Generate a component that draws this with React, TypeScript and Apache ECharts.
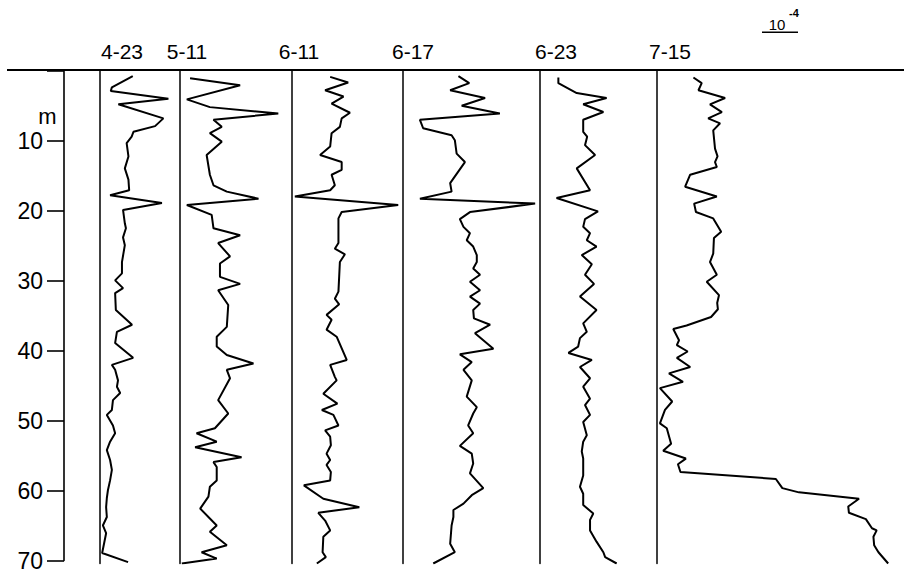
import React, { useEffect, useRef } from "react";
import * as echarts from "echarts";

// Profile labels (dates)
const profileLabels = ["4-23", "5-11", "6-11", "6-17", "6-23", "7-15"];

// Each profile: [depth (m), anomaly in units of 1e-5 from the profile's baseline]
const p0423 = [
  [0.8, 9.1], [2.4, 3.3], [2.9, 3.0], [4.0, 19.0], [4.8, 5.1], [6.8, 17.6], [7.9, 15.3],
  [8.7, 9.3], [9.4, 8.8], [10.3, 7.4], [12.2, 7.9], [13.9, 6.9], [15.5, 7.9], [17.0, 8.1],
  [17.7, 2.8], [18.8, 17.2], [19.8, 6.4], [21.7, 6.9], [22.4, 7.2], [23.7, 6.4], [24.8, 6.9],
  [27.2, 6.1], [28.8, 6.1], [29.8, 4.2], [30.9, 6.4], [31.6, 4.2], [34.0, 4.4], [36.1, 8.9],
  [37.1, 4.7], [38.7, 4.2], [40.8, 9.2], [41.8, 3.3], [42.5, 4.2], [44.0, 5.0], [44.9, 4.7],
  [45.8, 5.6], [46.8, 3.6], [48.2, 3.3], [48.9, 1.9], [50.4, 3.6], [51.5, 4.2], [52.7, 2.8],
  [53.9, 1.9], [55.3, 2.8], [56.7, 3.3], [58.2, 2.8], [59.6, 2.2], [60.7, 1.9], [62.0, 1.7],
  [63.4, 1.9], [64.6, 0.8], [65.7, 1.7], [68.5, 0.6], [69.8, 7.8],
];
const p0511 = [
  [1.1, 2.8], [2.1, 16.7], [4.1, 1.9], [5.2, 8.3], [6.1, 27.3], [7.0, 9.3], [8.0, 11.6],
  [8.9, 8.3], [10.1, 11.6], [12.0, 7.4], [14.8, 8.3], [16.3, 9.3], [17.2, 13.0], [18.2, 21.8],
  [19.1, 1.9], [20.5, 8.8], [22.4, 9.3], [23.4, 16.7], [24.5, 10.6], [26.4, 13.9], [27.4, 11.1],
  [29.3, 11.1], [30.3, 16.7], [31.2, 10.6], [33.3, 13.4], [36.4, 13.0], [37.8, 10.2],
  [39.2, 10.2], [40.4, 13.0], [41.6, 20.4], [42.5, 13.0], [43.7, 13.9], [46.8, 10.6],
  [48.7, 13.4], [50.8, 9.7], [51.5, 4.6], [52.7, 10.2], [53.5, 4.2], [54.9, 17.1], [55.6, 9.3],
  [56.3, 10.2], [58.2, 10.2], [59.1, 8.3], [60.5, 7.9], [62.2, 5.6], [64.6, 10.2], [65.5, 8.3],
  [67.4, 13.0], [68.4, 6.0], [69.3, 10.2], [70.0, 0.5],
];
const p0611 = [
  [0.9, 10.6], [1.7, 15.6], [2.8, 9.2], [3.7, 14.3], [4.7, 11.0], [6.0, 16.1], [6.8, 13.8],
  [8.0, 13.3], [8.9, 11.0], [10.8, 10.6], [12.0, 7.8], [13.0, 13.8], [14.1, 13.8], [14.8, 11.0],
  [16.3, 11.9], [17.0, 10.6], [17.9, 0.8], [19.1, 29.5], [20.1, 13.8], [21.0, 12.9],
  [24.5, 12.9], [25.3, 11.9], [26.1, 14.7], [27.2, 13.3], [29.3, 13.1], [31.4, 12.9],
  [32.4, 11.9], [33.2, 13.1], [34.7, 9.6], [35.4, 11.0], [36.8, 9.6], [37.8, 12.4], [41.1, 15.2],
  [41.8, 10.6], [43.5, 11.9], [44.0, 12.4], [45.9, 8.7], [47.3, 12.6], [48.2, 8.3], [48.9, 11.5],
  [50.4, 12.9], [51.1, 9.2], [52.0, 10.6], [53.2, 10.8], [54.4, 9.6], [55.3, 10.6], [56.0, 9.6],
  [57.0, 10.8], [58.2, 10.6], [58.9, 3.3], [60.8, 8.7], [62.0, 18.7], [62.8, 7.3], [63.9, 9.2],
  [65.3, 10.6], [66.2, 8.7], [68.4, 8.5], [69.1, 9.4], [70.0, 6.9],
];
const p0617 = [
  [0.8, 15.4], [1.8, 18.4], [2.8, 13.1], [3.9, 22.8], [5.0, 16.3], [6.1, 26.9], [7.0, 4.7],
  [8.2, 5.6], [9.2, 13.5], [9.9, 14.4], [11.8, 14.9], [13.0, 17.2], [16.0, 13.1], [17.2, 13.5],
  [18.2, 4.7], [18.9, 36.7], [20.1, 18.6], [21.1, 15.8], [22.2, 16.8], [23.1, 18.6], [24.1, 17.7],
  [25.0, 19.5], [26.2, 20.5], [27.2, 20.5], [28.1, 19.5], [29.0, 21.4], [30.0, 18.6], [31.2, 21.4],
  [32.1, 18.6], [33.1, 21.4], [34.0, 19.5], [35.2, 19.7], [36.1, 24.2], [37.3, 20.0], [39.5, 25.1],
  [40.3, 15.8], [41.4, 19.1], [42.5, 16.8], [44.0, 19.1], [46.3, 17.7], [47.8, 20.5], [48.7, 19.5],
  [50.4, 18.1], [51.5, 19.5], [53.3, 15.8], [54.4, 19.1], [55.8, 19.5], [57.2, 18.6], [59.3, 22.3],
  [60.3, 19.1], [61.5, 16.8], [62.4, 14.0], [63.4, 14.0], [64.6, 13.5], [67.2, 13.1], [68.4, 14.4],
  [70.0, 8.4],
];
const p0623 = [
  [1.0, 5.1], [1.8, 5.1], [3.2, 10.2], [3.9, 18.5], [4.8, 12.0], [5.9, 17.6], [7.0, 12.0],
  [8.7, 12.0], [9.4, 13.1], [10.6, 12.5], [12.0, 15.3], [13.9, 10.2], [17.0, 13.9], [18.1, 4.6],
  [20.0, 16.1], [21.1, 12.5], [22.2, 12.0], [23.1, 13.9], [24.1, 13.0], [25.0, 15.7], [26.2, 11.6],
  [27.5, 14.4], [29.0, 12.5], [30.3, 15.0], [32.1, 11.1], [34.0, 15.7], [35.9, 12.0], [37.1, 13.0],
  [38.0, 11.1], [39.2, 10.6], [40.1, 7.9], [41.1, 14.4], [42.1, 11.1], [43.7, 13.9], [44.9, 12.0],
  [46.6, 13.9], [47.5, 12.5], [48.9, 13.9], [49.9, 12.0], [51.8, 13.0], [52.7, 12.0], [54.1, 11.6],
  [55.1, 12.0], [57.5, 12.0], [59.1, 11.1], [60.1, 12.0], [61.7, 12.0], [62.9, 14.8], [63.8, 13.9],
  [65.3, 13.9], [66.9, 15.7], [68.4, 17.6], [69.1, 18.1], [70.0, 21.3],
];
const p0715 = [
  [1.0, 10.2], [1.8, 12.5], [2.8, 11.6], [3.9, 19.0], [4.8, 14.8], [5.9, 18.1], [6.8, 14.3],
  [7.5, 17.6], [8.5, 15.7], [11.1, 16.2], [12.2, 16.9], [13.0, 16.2], [13.7, 16.7], [14.8, 9.3],
  [16.5, 7.9], [17.9, 16.7], [18.9, 10.4], [20.1, 10.9], [21.0, 15.7], [22.9, 17.9], [23.8, 15.9],
  [26.0, 15.7], [27.2, 14.8], [29.0, 16.7], [30.0, 13.9], [31.9, 17.3], [33.0, 16.8], [33.9, 17.0],
  [35.0, 15.1], [36.2, 8.3], [36.7, 4.6], [38.3, 6.2], [39.0, 5.6], [39.9, 8.6], [40.8, 5.6],
  [42.1, 9.3], [43.0, 3.4], [44.2, 7.3], [45.1, 0.9], [47.0, 4.3], [48.2, 2.3], [50.1, 0.9],
  [50.8, 2.8], [53.0, 4.0], [54.0, 1.8], [55.1, 8.1], [55.9, 5.9], [57.0, 6.6], [58.0, 33.1],
  [59.3, 34.9], [59.9, 39.5], [60.8, 56.2], [61.9, 53.2], [62.8, 53.4], [63.7, 58.1], [65.0, 59.8],
  [65.3, 61.1], [66.2, 60.2], [67.4, 60.4], [68.4, 61.6], [70.0, 64.3],
];
const profiles = [p0423, p0511, p0611, p0617, p0623, p0715];

// Depth axis
const depthMin = 0;
const depthMax = 70;
const depthStep = 10;

// Scale bar: 10 units of 1e-5 = 1e-4
const scaleBarUnits = 10;

// ---- layout (pixels) ----
const W = 904;
const H = 572;
const TOP = 70.5;
const PLOT_H = 493;
const AXIS_X = 64;
const PX_PER_UNIT = 3.6;
const baselineX = [100, 180, 292, 403, 540, 656.7];
const labelX = [122, 187, 299, 413, 556, 670];
const FONT = "'Liberation Sans', Arial, sans-serif";

export default function App() {
  const ref = useRef<HTMLDivElement>(null);

  useEffect(() => {
    if (!ref.current) return;
    const chart = echarts.init(ref.current, undefined, { renderer: "svg" });

    const grids: any[] = [{ left: AXIS_X, top: TOP, width: W - AXIS_X, height: PLOT_H }];
    const xAxes: any[] = [{ gridIndex: 0, type: "value", min: 0, max: 1, show: false }];
    const yAxes: any[] = [
      {
        gridIndex: 0,
        type: "value",
        inverse: true,
        min: depthMin,
        max: depthMax,
        interval: depthStep,
        axisLine: { show: true, lineStyle: { color: "#000", width: 1.6 } },
        axisTick: { show: true, length: 17, lineStyle: { color: "#000", width: 1.6 } },
        axisLabel: {
          margin: 21,
          color: "#000",
          fontFamily: FONT,
          fontSize: 23,
          formatter: (v: number) => (v === 0 ? "" : String(v)),
        },
        splitLine: { show: false },
      },
    ];
    const series: any[] = [];

    profiles.forEach((p, i) => {
      const gi = i + 1;
      const width = W - baselineX[i];
      grids.push({ left: baselineX[i], top: TOP, width, height: PLOT_H });
      xAxes.push({ gridIndex: gi, type: "value", min: 0, max: width / PX_PER_UNIT, show: false });
      yAxes.push({
        gridIndex: gi,
        type: "value",
        inverse: true,
        min: depthMin,
        max: depthMax,
        axisLine: { show: true, onZero: false, lineStyle: { color: "#000", width: 1.5 } },
        axisTick: { show: false },
        axisLabel: { show: false },
        splitLine: { show: false },
      });
      series.push({
        name: profileLabels[i],
        type: "line",
        xAxisIndex: gi,
        yAxisIndex: gi,
        data: p.map(([d, v]) => [v, d]),
        showSymbol: false,
        symbol: "none",
        lineStyle: { color: "#000", width: 2 },
        z: 3,
      });
    });

    const graphic: any[] = [
      {
        type: "line",
        shape: { x1: 7, y1: 70, x2: W, y2: 70 },
        style: { stroke: "#000", lineWidth: 2 },
      },
      {
        type: "text",
        x: 47.5,
        y: 116,
        style: { text: "m", fill: "#000", font: `22px ${FONT}`, textAlign: "center", textVerticalAlign: "middle" },
      },
      {
        type: "text",
        x: 777,
        y: 24,
        style: { text: "10", fill: "#000", font: `15px ${FONT}`, textAlign: "center", textVerticalAlign: "middle" },
      },
      {
        type: "text",
        x: 794,
        y: 13,
        style: { text: "-4", fill: "#000", font: `bold 11px ${FONT}`, textAlign: "center", textVerticalAlign: "middle" },
      },
      {
        type: "line",
        shape: { x1: 762, y1: 32.3, x2: 762 + scaleBarUnits * PX_PER_UNIT, y2: 32.3 },
        style: { stroke: "#000", lineWidth: 1.5 },
      },
      ...profileLabels.map((t, i) => ({
        type: "text",
        x: labelX[i],
        y: 51,
        style: { text: t, fill: "#000", font: `21px ${FONT}`, textAlign: "center", textVerticalAlign: "middle" },
      })),
    ];

    chart.setOption({
      animation: false,
      backgroundColor: "#fff",
      grid: grids,
      xAxis: xAxes,
      yAxis: yAxes,
      series,
      graphic,
    });

    return () => chart.dispose();
  }, []);

  return (
    <div
      ref={ref}
      style={{ position: "fixed", left: 0, top: 0, width: W, height: H, background: "#fff" }}
    />
  );
}
